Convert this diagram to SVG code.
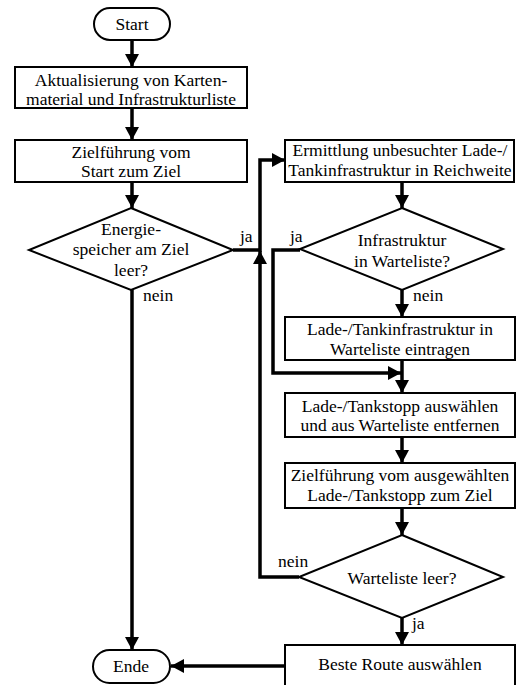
<svg xmlns="http://www.w3.org/2000/svg" width="517" height="685" viewBox="0 0 517 685">
<style>
  .box { fill: #fff; stroke: #000; stroke-width: 2; }
  .term { fill: #fff; stroke: #000; stroke-width: 2; }
  .conn { fill: none; stroke: #000; stroke-width: 3.5; }
  text { font-family: "Liberation Serif", "DejaVu Serif", serif; font-size: 17.5px; fill: #000; }
  .c text { text-anchor: middle; }
</style>
<defs>
  <marker id="arr" markerUnits="userSpaceOnUse" markerWidth="13" markerHeight="14" refX="13" refY="7" orient="auto">
    <path d="M0,0 L13,7 L0,14 z" fill="#000"/>
  </marker>
</defs>
<rect width="517" height="685" fill="#fff"/>

<g id="connectors">
  <path class="conn" d="M132,40 V67" marker-end="url(#arr)"/>
  <path class="conn" d="M132,108 V140" marker-end="url(#arr)"/>
  <path class="conn" d="M132,182 V208" marker-end="url(#arr)"/>
  <path class="conn" d="M233,250 H260 V160 H285" marker-end="url(#arr)"/>
  <path class="conn" d="M132,290 V650" marker-end="url(#arr)"/>
  <path class="conn" d="M402,182 V208" marker-end="url(#arr)"/>
  <path class="conn" d="M300,250 H273 V373 H401" marker-end="url(#arr)"/>
  <path class="conn" d="M402,290 V317" marker-end="url(#arr)"/>
  <path class="conn" d="M402,360 V393" marker-end="url(#arr)"/>
  <path class="conn" d="M402,437 V463" marker-end="url(#arr)"/>
  <path class="conn" d="M402,508 V535" marker-end="url(#arr)"/>
  <path class="conn" d="M299,577 H260 V251" marker-end="url(#arr)"/>
  <path class="conn" d="M402,618 V645" marker-end="url(#arr)"/>
  <path class="conn" d="M285,666 H171" marker-end="url(#arr)"/>
  <text x="240" y="242" font-family="Liberation Serif">ja</text>
  <text x="143" y="301" font-family="Liberation Serif">nein</text>
  <text x="290" y="242" font-family="Liberation Serif">ja</text>
  <text x="413" y="301" font-family="Liberation Serif">nein</text>
  <text x="278" y="567" font-family="Liberation Serif">nein</text>
  <text x="412" y="629" font-family="Liberation Serif">ja</text>
</g>

<g class="c">
<g id="start">
  <rect class="term" x="94" y="8" width="76" height="32" rx="16"/>
  <text x="132" y="30" font-family="Liberation Serif">Start</text>
</g>
<g id="update">
  <rect class="box" x="15" y="67" width="232" height="41"/>
  <text x="131" y="86" font-family="Liberation Serif">Aktualisierung von Karten-</text>
  <text x="131" y="105" font-family="Liberation Serif">material und Infrastrukturliste</text>
</g>
<g id="route1">
  <rect class="box" x="15" y="140" width="232" height="42"/>
  <text x="131" y="158" font-family="Liberation Serif">Zielführung vom</text>
  <text x="131" y="177" font-family="Liberation Serif">Start zum Ziel</text>
</g>
<g id="energy">
  <polygon class="box" points="131,208 233,250 131,290 29,250"/>
  <text x="131" y="235" font-family="Liberation Serif">Energie-</text>
  <text x="131" y="255" font-family="Liberation Serif">speicher am Ziel</text>
  <text x="131" y="276" font-family="Liberation Serif">leer?</text>
</g>
<g id="find">
  <rect class="box" x="285" y="140" width="229" height="42"/>
  <text x="400" y="156" font-family="Liberation Serif">Ermittlung unbesuchter Lade-/</text>
  <text x="400" y="176" font-family="Liberation Serif">Tankinfrastruktur in Reichweite</text>
</g>
<g id="inlist">
  <polygon class="box" points="402,208 503,249 402,290 300,249"/>
  <text x="402" y="246" font-family="Liberation Serif">Infrastruktur</text>
  <text x="402" y="267" font-family="Liberation Serif">in Warteliste?</text>
</g>
<g id="add">
  <rect class="box" x="285" y="317" width="230" height="43"/>
  <text x="400" y="335" font-family="Liberation Serif">Lade-/Tankinfrastruktur in</text>
  <text x="400" y="355" font-family="Liberation Serif">Warteliste eintragen</text>
</g>
<g id="select">
  <rect class="box" x="285" y="393" width="230" height="44"/>
  <text x="400" y="412" font-family="Liberation Serif">Lade-/Tankstopp auswählen</text>
  <text x="400" y="431" font-family="Liberation Serif">und aus Warteliste entfernen</text>
</g>
<g id="route2">
  <rect class="box" x="285" y="463" width="230" height="45"/>
  <text x="400" y="481" font-family="Liberation Serif">Zielführung vom ausgewählten</text>
  <text x="400" y="501" font-family="Liberation Serif">Lade-/Tankstopp zum Ziel</text>
</g>
<g id="empty">
  <polygon class="box" points="402,535 503,577 402,618 299,577"/>
  <text x="402" y="584" font-family="Liberation Serif">Warteliste leer?</text>
</g>
<g id="best">
  <rect class="box" x="285" y="645" width="230" height="50"/>
  <text x="400" y="670" font-family="Liberation Serif">Beste Route auswählen</text>
</g>
<g id="end">
  <rect class="term" x="93" y="650" width="77" height="33" rx="16.5"/>
  <text x="131" y="672" font-family="Liberation Serif">Ende</text>
</g>
</g>
</svg>
